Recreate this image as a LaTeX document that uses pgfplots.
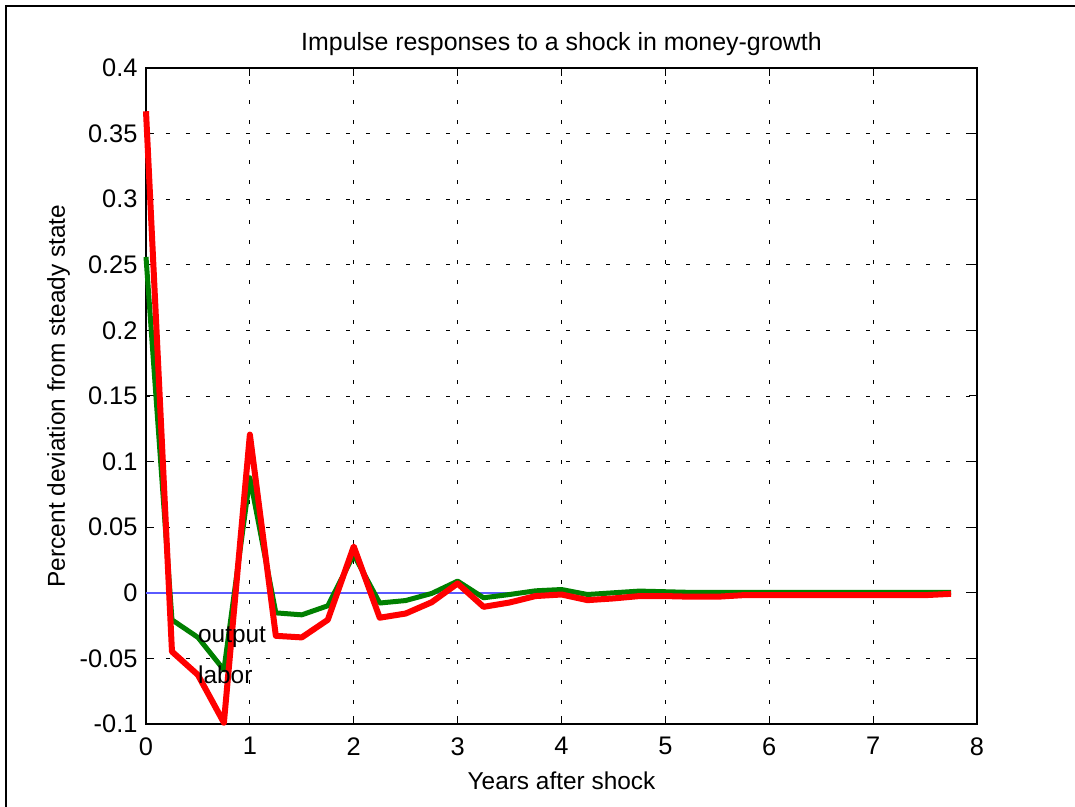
\documentclass[border=0pt]{standalone}
\usepackage{pgfplots}
\pgfplotsset{compat=1.18}
\usepackage{pgfplotstable}
\usetikzlibrary{calc}
\usepackage{fontspec}
\setmainfont{Liberation Sans}
\definecolor{mgreen}{RGB}{0,128,0}
\definecolor{mred}{RGB}{255,0,0}
\definecolor{mblue}{RGB}{90,90,255}
\pgfplotstableread{
x output labor
0    0.256   0.367
0.25 -0.0206 -0.0448
0.5  -0.034  -0.0626
0.75 -0.0588 -0.099
1.0  0.0877  0.1206
1.25 -0.0153 -0.0328
1.5  -0.0168 -0.034
1.75 -0.0099 -0.0206
2.0  0.029   0.0353
2.25 -0.0078 -0.019
2.5  -0.0059 -0.0158
2.75 -0.0005 -0.0072
3.0  0.0089  0.0071
3.25 -0.0038 -0.0107
3.5  -0.0013 -0.0074
3.75 0.0015  -0.0025
4.0  0.0025  -0.0013
4.25 -0.0013 -0.0056
4.5  0.0     -0.0043
4.75 0.0013  -0.0025
5.0  0.0008  -0.0025
5.25 0.0003  -0.003
5.5  0.0003  -0.003
5.75 0.0004  -0.0018
6.0  0.0004  -0.0018
6.25 0.0004  -0.0018
6.5  0.0004  -0.0018
6.75 0.0004  -0.0018
7.0  0.0004  -0.0018
7.25 0.0004  -0.0018
7.5  0.0004  -0.0018
7.75 0.0004  -0.0008
}\irf
\newcommand{\bigf}{\fontsize{24.5}{29}\selectfont}
\newcommand{\tickf}{\fontsize{25.5}{30}\selectfont}
\begin{document}
\begin{tikzpicture}[x=1bp,y=1bp,font=\bigf]
\begin{axis}[
  at={(0,0)}, anchor=south west,
  scale only axis, width=831bp, height=656bp,
  xmin=0, xmax=8, ymin=-0.1, ymax=0.4,
  xtick={0,1,2,3,4,5,6,7,8},
  xticklabels={0,1,2,3,4,5,6,7,8},
  ytick={-0.1,-0.05,0,0.05,0.1,0.15,0.2,0.25,0.3,0.35,0.4},
  yticklabels={-0.1,-0.05,0,0.05,0.1,0.15,0.2,0.25,0.3,0.35,0.4},
  tick label style={font=\tickf},
  label style={font=\bigf},
  tick align=inside, major tick length=8bp,
  tick style={black, line width=1bp},
  axis line style={line width=1.2bp},
  grid=major,
  major grid style={black, line width=0.9bp, dash pattern=on 4bp off 16bp},
  xticklabel style={yshift=-10bp},
  yticklabel style={xshift=-5bp},
  title={Impulse responses to a shock in money-growth},
  title style={font=\fontsize{25}{29}\selectfont, at={(axis description cs:0.5,1.0168)}, anchor=base, yshift=0pt},
  xlabel={Years after shock},
  xlabel style={at={(axis description cs:0.5,-0.1006)}, anchor=base},
  ylabel={Percent deviation from steady state},
  ylabel style={at={(axis description cs:-0.0975,0.5)}, anchor=base},
  clip=false,
]
\coordinate (BL) at (rel axis cs:0,0);
\addplot[mblue, line width=1.5bp] coordinates {(0,0) (7.75,0)};
\addplot[mgreen, line width=5bp, line join=round] table[x=x,y=output]{\irf};
\addplot[mred, line width=6bp, line join=round] table[x=x,y=labor]{\irf};
\node[anchor=west, inner sep=0pt, font=\bigf] at (axis cs:0.5,-0.034) {output};
\node[anchor=west, inner sep=0pt, font=\bigf] at (axis cs:0.5,-0.0626) {labor};
\end{axis}
\draw[line width=2bp] ($(BL)+(-139.5,-83)$) -- ++(0,800.5) -- ++(1068.5,0);
\pgfresetboundingbox
\path[use as bounding box] ($(BL)+(-146,-83)$) rectangle ++(1075,807);
\end{tikzpicture}
\end{document}
